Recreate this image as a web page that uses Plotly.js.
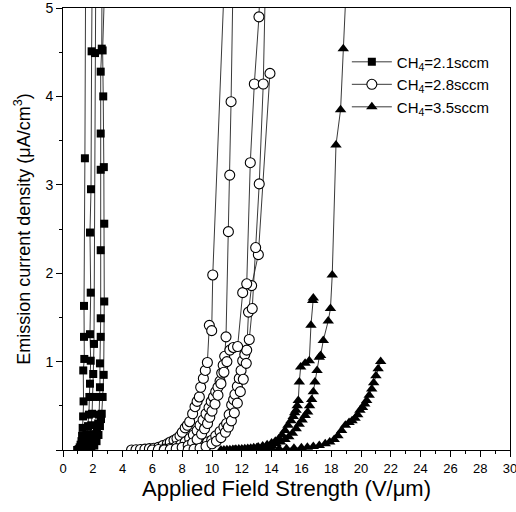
<!DOCTYPE html>
<html>
<head>
<meta charset="utf-8">
<script src="https://cdn.plot.ly/plotly-3.0.1.min.js"></script>
<style>
  html, body { margin: 0; padding: 0; background: #fff; }
  #chart { width: 516px; height: 512px; }
</style>
</head>
<body>
<div id="chart"></div>
<script>
// Field-emission J–E sweeps for three CH4 flow rates (several sweeps per sample)

// CH4 = 2.1 sccm
const sq1X = [0.95, 1.05, 1.12, 1.18, 1.24, 1.28, 1.32, 1.35, 1.38, 1.36, 1.43, 1.41, 1.41, 1.47, 1.52];
const sq1Y = [0, 0.01, 0.03, 0.06, 0.1, 0.16, 0.25, 0.38, 0.55, 0.9, 1.03, 1.28, 1.63, 3.3, 5.4];
const sq2X = [1.1, 1.25, 1.4, 1.5, 1.6, 1.68, 1.74, 1.77, 1.81, 1.86, 1.81, 1.86, 1.81, 1.88, 1.92, 1.96];
const sq2Y = [0, 0.02, 0.06, 0.1, 0.17, 0.27, 0.4, 0.6, 0.75, 1.01, 1.31, 1.78, 2.46, 2.95, 4.51, 5.4];
const sq3X = [1.3, 1.45, 1.6, 1.72, 1.82, 1.9, 1.95, 2.0, 2.03, 2.08, 2.15, 2.2];
const sq3Y = [0, 0.02, 0.05, 0.1, 0.18, 0.28, 0.41, 0.6, 0.86, 1.2, 4.49, 5.4];
const sq4X = [1.5, 1.7, 1.9, 2.05, 2.18, 2.28, 2.36, 2.42, 2.48, 2.48, 2.48, 2.53, 2.53, 2.53, 2.53, 2.53, 2.53, 2.6, 2.62];
const sq4Y = [0, 0.02, 0.05, 0.09, 0.15, 0.22, 0.3, 0.4, 0.6, 0.71, 0.98, 1.28, 1.49, 2.26, 3.17, 3.58, 4.28, 4.54, 5.4];
const sq5X = [1.7, 1.9, 2.1, 2.25, 2.38, 2.48, 2.55, 2.6, 2.66, 2.73, 2.77, 2.77, 2.74, 2.7, 2.66, 2.82];
const sq5Y = [0, 0.02, 0.05, 0.1, 0.17, 0.27, 0.35, 0.41, 0.6, 0.85, 1.68, 2.56, 3.2, 4.0, 4.52, 5.4];

// CH4 = 2.8 sccm
const ci1X = [4.6, 4.9, 5.2, 5.5, 5.8, 6.1, 6.4, 6.7, 7.0, 7.2, 7.45, 7.65, 7.85, 8.0, 8.2, 8.35, 8.5, 8.7, 8.86, 9.0, 9.15, 9.24, 9.42, 9.55, 9.69, 9.82, 9.98, 10.05, 10.85];
const ci1Y = [0, 0.003, 0.006, 0.01, 0.015, 0.02, 0.03, 0.05, 0.07, 0.09, 0.11, 0.13, 0.16, 0.2, 0.25, 0.28, 0.32, 0.41, 0.49, 0.55, 0.6, 0.71, 0.81, 0.9, 0.99, 1.41, 1.35, 1.98, 5.4];
const ci2X = [6.0, 6.4, 6.8, 7.2, 7.6, 7.9, 8.2, 8.5, 8.75, 9.0, 9.2, 9.4, 9.6, 9.8, 9.95, 10.1, 10.25, 10.4, 10.54, 10.65, 10.75, 10.85, 10.94, 11.1, 11.19, 11.28, 11.42];
const ci2Y = [0, 0.005, 0.01, 0.02, 0.04, 0.06, 0.09, 0.13, 0.17, 0.22, 0.28, 0.34, 0.41, 0.48, 0.55, 0.6, 0.66, 0.71, 0.78, 0.87, 0.96, 1.06, 1.28, 2.47, 3.11, 3.94, 5.4];
const ci3X = [7.4, 7.8, 8.2, 8.6, 9.0, 9.4, 9.7, 9.98, 10.25, 10.54, 10.8, 10.98, 11.15, 11.32, 11.45, 11.54, 11.7, 11.83, 11.95, 12.06, 12.2, 12.33, 12.45, 12.66, 13.11, 13.89];
const ci3Y = [0, 0.005, 0.015, 0.03, 0.05, 0.07, 0.09, 0.11, 0.16, 0.21, 0.26, 0.3, 0.4, 0.51, 0.57, 0.63, 0.72, 0.81, 0.9, 1.01, 1.08, 1.13, 1.56, 1.86, 2.21, 4.26];
const ci4X = [6.8, 7.2, 7.6, 8.0, 8.4, 8.7, 9.0, 9.3, 9.5, 9.7, 9.85, 10.0, 10.2, 10.4, 10.6, 10.8, 11.0, 11.2, 11.43, 11.72, 12.06, 12.33, 12.57, 12.84, 13.15, 13.25];
const ci4Y = [0, 0.005, 0.015, 0.03, 0.05, 0.08, 0.12, 0.18, 0.24, 0.3, 0.37, 0.44, 0.52, 0.62, 0.75, 0.88, 1.0, 1.13, 1.16, 1.17, 1.78, 1.88, 3.25, 4.14, 4.9, 5.4];
const ci5X = [8.4, 8.8, 9.2, 9.6, 10.0, 10.3, 10.6, 10.9, 11.1, 11.3, 11.5, 11.7, 11.9, 12.1, 12.3, 12.5, 12.7, 12.93, 13.17, 13.44, 13.6];
const ci5Y = [0, 0.01, 0.02, 0.04, 0.07, 0.1, 0.14, 0.2, 0.26, 0.33, 0.42, 0.53, 0.66, 0.8, 0.98, 1.25, 1.6, 2.29, 3.01, 4.14, 5.4];

// CH4 = 3.5 sccm
const tr1X = [10.6, 11.0, 11.4, 11.8, 12.2, 12.6, 13.0, 13.4, 13.7, 14.0, 14.3, 14.6, 14.9, 15.15, 15.4, 15.65, 15.85, 16.05, 16.25, 16.42, 16.55, 16.69, 16.8, 16.91, 17.05, 17.2, 17.29, 17.47, 17.8, 17.95, 18.07, 18.32, 18.63, 18.81, 19.05];
const tr1Y = [0, 0.004, 0.007, 0.01, 0.015, 0.02, 0.025, 0.03, 0.04, 0.05, 0.07, 0.09, 0.12, 0.15, 0.19, 0.24, 0.29, 0.34, 0.39, 0.43, 0.5, 0.57, 0.66, 0.77, 0.9, 1.05, 1.07, 1.24, 1.46, 1.6, 1.98, 3.45, 3.85, 4.54, 5.4];
const tr2X = [10.8, 11.2, 11.6, 12.0, 12.4, 12.8, 13.1, 13.4, 13.7, 14.0, 14.25, 14.5, 14.7, 14.9, 15.1, 15.3, 15.45, 15.55, 15.64, 15.72, 15.79, 15.86, 15.95, 16.25, 16.53, 16.64, 16.76, 16.8];
const tr2Y = [0, 0.004, 0.008, 0.012, 0.018, 0.025, 0.035, 0.045, 0.06, 0.08, 0.1, 0.13, 0.17, 0.22, 0.28, 0.33, 0.38, 0.42, 0.45, 0.5, 0.56, 0.77, 0.94, 0.98, 1.01, 1.41, 1.69, 1.72];
const tr3X = [11.5, 12.0, 12.5, 13.0, 13.5, 14.0, 14.5, 15.0, 15.5, 16.0, 16.4, 16.8, 17.2, 17.6, 17.9, 18.2, 18.45, 18.7, 18.95, 19.2, 19.4, 19.6, 19.78, 19.93, 20.1, 20.25, 20.38, 20.55, 20.72, 20.85, 21.0, 21.15, 21.32];
const tr3Y = [0, 0.002, 0.004, 0.006, 0.008, 0.01, 0.012, 0.015, 0.02, 0.025, 0.03, 0.04, 0.05, 0.07, 0.09, 0.12, 0.16, 0.22, 0.28, 0.31, 0.33, 0.36, 0.4, 0.45, 0.48, 0.52, 0.56, 0.62, 0.69, 0.76, 0.84, 0.92, 1.0];

const seriesNames = ['CH<sub>4</sub>=2.1sccm', 'CH<sub>4</sub>=2.8sccm', 'CH<sub>4</sub>=3.5sccm'];
const xTickVals = [0, 2, 4, 6, 8, 10, 12, 14, 16, 18, 20, 22, 24, 26, 28, 30];
const yTickVals = [0, 1, 2, 3, 4, 5];
const yTickText = ['', '1', '2', '3', '4', '5'];

// join several sweeps into one trace, separated by gaps
function joinSweeps(list) {
  const out = [];
  list.forEach((arr, i) => {
    if (i > 0) out.push(null);
    out.push(...arr);
  });
  return out;
}

const lineStyle = { color: '#222', width: 0.9 };

const traces = [
  {
    name: seriesNames[0],
    x: joinSweeps([sq1X, sq2X, sq3X, sq4X, sq5X]),
    y: joinSweeps([sq1Y, sq2Y, sq3Y, sq4Y, sq5Y]),
    mode: 'lines+markers',
    line: lineStyle,
    marker: { symbol: 'square', size: 8, color: '#000' }
  },
  {
    name: seriesNames[1],
    x: joinSweeps([ci1X, ci2X, ci3X, ci4X, ci5X]),
    y: joinSweeps([ci1Y, ci2Y, ci3Y, ci4Y, ci5Y]),
    mode: 'lines+markers',
    line: lineStyle,
    marker: { symbol: 'circle', size: 10, color: '#fff', line: { color: '#000', width: 1.1 } }
  },
  {
    name: seriesNames[2],
    x: joinSweeps([tr1X, tr2X, tr3X]),
    y: joinSweeps([tr1Y, tr2Y, tr3Y]),
    mode: 'lines+markers',
    line: lineStyle,
    marker: { symbol: 'triangle-up', size: 10, color: '#000' }
  }
];

const font = 'Liberation Sans, Arial, sans-serif';

const layout = {
  width: 516,
  height: 512,
  margin: { l: 63, r: 6, t: 8, b: 62 },
  paper_bgcolor: '#fff',
  plot_bgcolor: '#fff',
  font: { family: font, color: '#000', size: 13 },
  showlegend: true,
  legend: {
    x: 0.635, y: 0.915, xanchor: 'left', yanchor: 'top',
    bgcolor: 'rgba(255,255,255,0)',
    font: { family: font, size: 15, color: '#000' },
    itemwidth: 40,
    tracegroupgap: 0
  },
  xaxis: {
    range: [0, 30],
    tickmode: 'array',
    tickvals: xTickVals,
    ticks: 'outside', ticklen: 6, tickwidth: 1, tickcolor: '#000',
    minor: { dtick: 1, ticks: 'outside', ticklen: 3, tickcolor: '#000' },
    showgrid: false, zeroline: false,
    showline: true, linecolor: '#000', linewidth: 1, mirror: true,
    ticklabeloverflow: 'allow',
    tickfont: { family: font, size: 13 },
    title: { text: 'Applied Field Strength (V/\u03bcm)', font: { family: font, size: 22 }, standoff: 6 }
  },
  yaxis: {
    range: [0, 5],
    tickmode: 'array',
    tickvals: yTickVals,
    ticktext: yTickText,
    ticks: 'outside', ticklen: 6, tickwidth: 1, tickcolor: '#000',
    minor: { dtick: 0.5, ticks: 'outside', ticklen: 3, tickcolor: '#000' },
    showgrid: false, zeroline: false,
    showline: true, linecolor: '#000', linewidth: 1, mirror: true,
    ticklabeloverflow: 'allow',
    tickfont: { family: font, size: 14 },
    title: { text: 'Emission current density (\u03bcA/cm<sup>3</sup>)', font: { family: font, size: 18 }, standoff: 10 }
  }
};

Plotly.newPlot('chart', traces, layout, { displayModeBar: false, staticPlot: true });
</script>
</body>
</html>
